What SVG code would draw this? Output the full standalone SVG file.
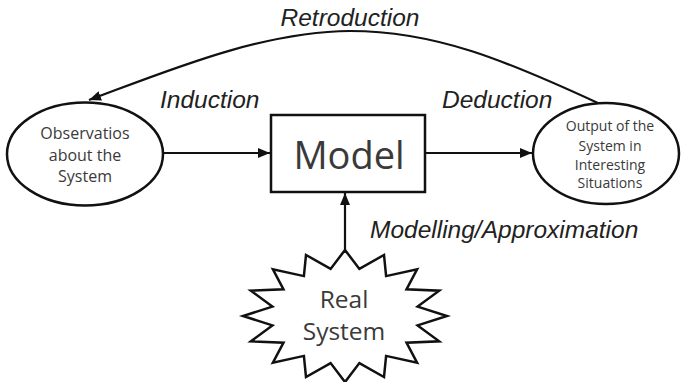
<svg xmlns="http://www.w3.org/2000/svg" width="681" height="382" viewBox="0 0 681 382">
  <style>
    .shape { fill: #ffffff; stroke: #111111; stroke-width: 2.5; }
    .conn { fill: none; stroke: #111111; stroke-width: 2.2; }
    .lbl { font-family: "Liberation Sans", Arial, sans-serif; font-style: italic; font-size: 24.5px; fill: #222222; }
    .node { font-family: "Open Sans", "Noto Sans", sans-serif; fill: #3a3a3a; text-anchor: middle; }
  </style>
  <defs>
    <marker id="arrow" viewBox="0 0 12 10" refX="12" refY="5" markerWidth="12" markerHeight="10" markerUnits="userSpaceOnUse" orient="auto">
      <path d="M0,0 L12,5 L0,10 z" fill="#111111"/>
    </marker>
  </defs>
  <rect width="681" height="382" fill="#ffffff"/>

  <g id="connectors">
    <path class="conn" d="M600,104 C505,60 435,31 350,31 C260,32 170,70 89,100" marker-end="url(#arrow)"/>
    <line class="conn" x1="163" y1="153" x2="270" y2="153" marker-end="url(#arrow)"/>
    <line class="conn" x1="425" y1="153" x2="532" y2="153" marker-end="url(#arrow)"/>
    <line class="conn" x1="345" y1="251" x2="345" y2="193" marker-end="url(#arrow)"/>
  </g>

  <g id="labels">
    <text class="lbl" x="350" y="26" text-anchor="middle">Retroduction</text>
    <text class="lbl" x="160" y="108">Induction</text>
    <text class="lbl" x="442" y="108">Deduction</text>
    <text class="lbl" x="370" y="238">Modelling/Approximation</text>
  </g>

  <g id="observations">
    <ellipse class="shape" cx="85" cy="154" rx="78" ry="51.5"/>
    <text class="node" font-size="16" x="85" y="139">Observatios</text>
    <text class="node" font-size="16" x="85" y="161">about the</text>
    <text class="node" font-size="16" x="85" y="182">System</text>
  </g>

  <g id="output">
    <ellipse class="shape" cx="606" cy="153.5" rx="73" ry="50.5"/>
    <text class="node" font-size="14" x="610" y="131">Output of the</text>
    <text class="node" font-size="14" x="610" y="151">System in</text>
    <text class="node" font-size="14" x="610" y="169.5">Interesting</text>
    <text class="node" font-size="14" x="610" y="188">Situations</text>
  </g>

  <g id="model">
    <rect class="shape" x="271" y="115" width="154" height="77" stroke-width="2"/>
    <text class="node" font-size="38" x="349" y="169" fill="#222222">Model</text>
  </g>

  <g id="real-system">
    <polygon class="shape" points="345,250 359.4,268.9 384,255 386.1,276.1 417.1,269.3 406.5,289.3 439.2,290.7 417.6,306.6 447,316 417.6,325.4 439.2,341.3 406.5,342.7 417.1,362.7 386.1,355.9 384,377 359.4,363.1 345,382 330.6,363.1 306,377 303.9,355.9 272.9,362.7 283.5,342.7 250.8,341.3 272.4,325.4 243,316 272.4,306.6 250.8,290.7 283.5,289.3 272.9,269.3 303.9,276.1 306,255 330.6,268.9"/>
    <text class="node" font-size="24.5" x="344" y="308" fill="#333333">Real</text>
    <text class="node" font-size="24.5" x="344" y="340" fill="#333333">System</text>
  </g>
</svg>
